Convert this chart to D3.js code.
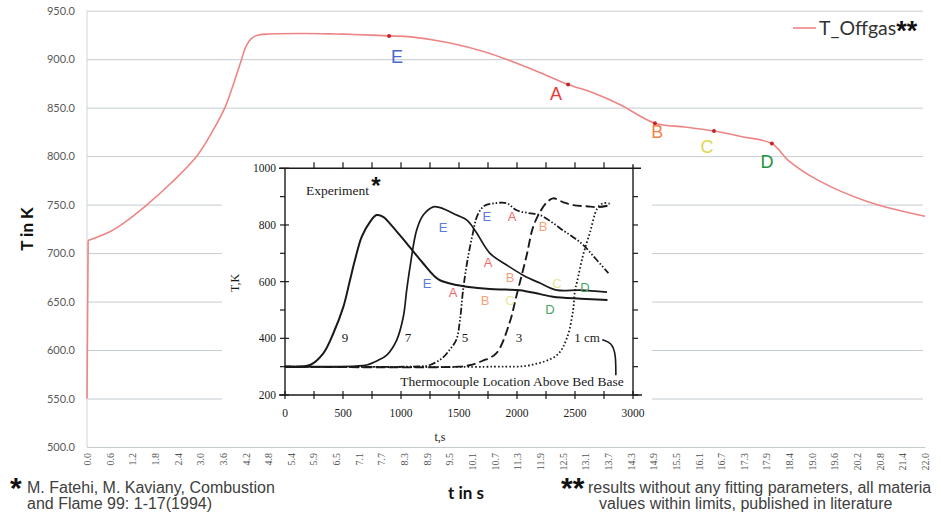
<!DOCTYPE html>
<html>
<head>
<meta charset="utf-8">
<script src="https://cdn.jsdelivr.net/npm/d3@7"></script>
<style>
  body { margin: 0; background: #fff; }
  svg { display: block; }
</style>
</head>
<body>
<svg id="chart" width="941" height="518"></svg>
<script>
// ---- main chart: T_Offgas over t ----
const offT = [0, 0.03, 0.6, 1.0, 1.58, 2.2, 2.88, 3.3, 3.62, 3.85, 4.06, 4.17, 4.32, 4.5, 4.8, 5.67, 6.5, 7.0, 7.93, 8.5, 9.5, 10.5, 11.2, 11.9, 12.63, 13.3, 14.0, 14.91, 15.7, 16.46, 17.2, 17.98, 18.4, 19.2, 20.5, 22.0];
const offK = [550, 713, 722, 732, 750, 772, 800, 826, 850, 875, 900, 913, 921.5, 925, 926, 926.5, 926, 925.5, 924, 923, 917, 907, 897, 886, 874, 865, 853, 834, 830, 826, 820, 813, 796, 775, 753, 738];
const yTicks = [500, 550, 600, 650, 700, 750, 800, 850, 900, 950];
const xTickLabels = ["0.0","0.6","1.2","1.8","2.4","3.0","3.6","4.2","4.8","5.4","5.9","6.5","7.1","7.7","8.3","8.9","9.5","10.1","10.7","11.3","11.9","12.5","13.1","13.7","14.3","14.9","15.5","16.1","16.7","17.3","17.9","18.4","19.0","19.6","20.2","20.8","21.4","22.0"];

// phase markers on the main curve and their letters
const phaseLetters = ["E", "A", "B", "C", "D"];
const phaseT = [7.93, 12.63, 14.91, 16.46, 17.98];
const phaseK = [924, 874, 834, 826, 813];
const phaseLabelT = [8.14, 12.31, 14.97, 16.28, 17.85];
const phaseLabelK = [902, 864, 825, 809.5, 794];
const letterColor = {E: "#4a68d0", A: "#e8383a", B: "#f3834a", C: "#dcd84c", D: "#23913f"};
const insetLetterColor = {E: "#5c7bdc", A: "#f06a6a", B: "#f5a27c", C: "#e8e69a", D: "#46a862"};

// ---- inset: experiment (Fatehi & Kaviany) ----
const c9t = [0, 216, 330, 416, 503, 560, 603, 661, 733, 790, 850, 905, 1049, 1192, 1279, 1336, 1480, 1566, 1765, 1900, 2025, 2200, 2310, 2550, 2780];
const c9k = [300, 306, 347, 417, 511, 605, 676, 758, 811, 835, 828, 805, 735, 664, 623, 605, 588, 582, 574, 572, 570, 556, 547, 540, 535];
const c7t = [0, 610, 704, 800, 877, 963, 1020, 1049, 1078, 1135, 1192, 1279, 1330, 1394, 1480, 1566, 1640, 1767, 1914, 2052, 2198, 2345, 2543, 2776];
const c7k = [300, 302, 306, 322, 341, 394, 476, 570, 652, 782, 835, 864, 862, 852, 835, 818, 780, 700, 658, 623, 595, 570, 570, 563];
const c5t = [0, 1150, 1243, 1355, 1420, 1476, 1510, 1535, 1575, 1616, 1660, 1720, 1800, 1910, 1997, 2100, 2197, 2300, 2400, 2485, 2572, 2680, 2788];
const c5k = [300, 301, 305, 330, 360, 394, 470, 570, 680, 764, 835, 868, 876, 877, 852, 842, 835, 810, 780, 757, 729, 680, 630];
const c3t = [0, 1500, 1590, 1700, 1823, 1935, 1997, 2084, 2136, 2197, 2258, 2310, 2400, 2485, 2600, 2693, 2780];
const c3k = [300, 300, 305, 320, 348, 454, 553, 694, 789, 845, 880, 894, 880, 870, 866, 863, 868];
const c1t = [0, 1800, 2110, 2345, 2430, 2484, 2500, 2518, 2570, 2630, 2693, 2745, 2800];
const c1k = [300, 300, 305, 341, 401, 500, 570, 600, 694, 775, 859, 877, 875];
const curveNames = ["9", "7", "5", "3", "1 cm"];
const curveNameT = [517, 1060, 1552, 2017, 2603];
const insetXTicks = [0, 500, 1000, 1500, 2000, 2500, 3000];
const insetYTicks = [200, 400, 600, 800, 1000];

const insetLetters = ["E", "E", "A", "B", "E", "A", "B", "C", "D", "A", "B", "C", "D"];
const insetLetterT = [1362, 1741, 1957, 2224, 1224, 1750, 1940, 2345, 2586, 1448, 1724, 1940, 2284];
const insetLetterK = [792, 831, 831, 796, 595, 669, 616, 595, 581, 560, 535, 535, 503];

const svg = d3.select("#chart");

// main scales
const x = d3.scaleLinear().domain([0, 22]).range([87, 925]);
const xCat = d3.scalePoint().domain(xTickLabels).range([87, 925]);
const y = d3.scaleLinear().domain([500, 950]).range([447, 10.7]);

// gridlines + y labels
const yAxis = svg.append("g")
  .attr("transform", "translate(87,0)")
  .call(d3.axisLeft(y).tickValues(yTicks).tickSize(-836).tickFormat(d3.format(".1f")).tickPadding(12));
yAxis.select(".domain").remove();
yAxis.selectAll(".tick line").attr("stroke", "#c5ccd0").attr("stroke-width", 1);
yAxis.selectAll(".tick text")
  .attr("fill", "#595959").style("font-family", "Lato, 'Open Sans', sans-serif").style("font-size", "11px");

// left axis line
svg.append("line").attr("x1", 87).attr("x2", 87).attr("y1", y(950)).attr("y2", y(500))
  .attr("stroke", "#d0d6d9");

// x tick labels (rotated)
const xAxis = svg.append("g")
  .attr("transform", "translate(0,447)")
  .call(d3.axisBottom(xCat).tickSize(0));
xAxis.select(".domain").attr("stroke", "#c5ccd0");
xAxis.selectAll(".tick text")
  .attr("fill", "#555")
  .style("font-family", "'Liberation Serif', serif").style("font-size", "10px")
  .attr("text-anchor", "end")
  .attr("transform", "rotate(-90)")
  .attr("x", -6).attr("y", 0).attr("dy", "0.35em");

// axis titles
svg.append("text").attr("transform", "translate(33,229) rotate(-90)")
  .attr("text-anchor", "middle")
  .style("font-family", "Lato, sans-serif").style("font-weight", "bold").style("font-size", "17px")
  .attr("fill", "#111").text("T in K");
svg.append("text").attr("x", 466).attr("y", 499).attr("text-anchor", "middle")
  .style("font-family", "Lato, sans-serif").style("font-weight", "bold").style("font-size", "17px")
  .attr("fill", "#111").text("t in s");

// main line: the jump at t=0 straight, the rest smoothed
const offData = offT.map((t, i) => [t, offK[i]]);
svg.append("path").datum(offData.slice(0, 2))
  .attr("fill", "none").attr("stroke", "#ee8585").attr("stroke-width", 1.6)
  .attr("d", d3.line().x(d => x(d[0])).y(d => y(d[1])));
svg.append("path").datum(offData.slice(1))
  .attr("fill", "none").attr("stroke", "#ee8585").attr("stroke-width", 1.6)
  .attr("d", d3.line().x(d => x(d[0])).y(d => y(d[1])).curve(d3.curveCatmullRom.alpha(0.5)));

svg.selectAll(".phase").data(phaseT).join("circle")
  .attr("cx", d => x(d)).attr("cy", (d, i) => y(phaseK[i])).attr("r", 2)
  .attr("fill", "#c3262a");

svg.selectAll(".phaseLabel").data(phaseLetters).join("text")
  .attr("x", (d, i) => x(phaseLabelT[i])).attr("y", (d, i) => y(phaseLabelK[i]))
  .attr("text-anchor", "middle").attr("dominant-baseline", "central")
  .style("font-family", "'Liberation Sans', Arial, sans-serif").style("font-size", "18px")
  .attr("fill", d => letterColor[d]).text(d => d);

// legend
svg.append("line").attr("x1", 793).attr("x2", 816).attr("y1", 28).attr("y2", 28)
  .attr("stroke", "#ee8585").attr("stroke-width", 1.6);
const leg = svg.append("text").attr("x", 819).attr("y", 34.5)
  .style("font-family", "Lato, sans-serif").style("font-size", "19.5px").attr("fill", "#333");
leg.append("tspan").text("T_Offgas");
leg.append("tspan").attr("dy", 5).style("font-family", "'Liberation Sans', sans-serif").style("font-weight", "bold")
  .style("font-size", "27px").attr("fill", "#111").text("**");

// ---- inset ----
const inset = svg.append("g");
inset.append("rect").attr("x", 222).attr("y", 158).attr("width", 430).attr("height", 284).attr("fill", "#fff");

const xs = d3.scaleLinear().domain([0, 3000]).range([285, 633]);
const ys = d3.scaleLinear().domain([200, 1000]).range([395, 168.3]);
const ink = "#1a1a1a";
const serif = "'Liberation Serif', 'Times New Roman', serif";

// frame
inset.append("line").attr("x1", xs(0)).attr("x2", xs(0)).attr("y1", ys(1000)).attr("y2", ys(200)).attr("stroke", ink).attr("stroke-width", 1.4);
inset.append("line").attr("x1", xs(0) - 6).attr("x2", xs(3000) + 8).attr("y1", ys(1000)).attr("y2", ys(1000)).attr("stroke", ink).attr("stroke-width", 1.4);
inset.append("line").attr("x1", xs(3000)).attr("x2", xs(3000)).attr("y1", ys(1000) - 4).attr("y2", ys(200)).attr("stroke", ink).attr("stroke-width", 1.4);
inset.append("line").attr("x1", xs(0) - 6).attr("x2", xs(3000) + 9).attr("y1", ys(200)).attr("y2", ys(200)).attr("stroke", ink).attr("stroke-width", 1.4);

// ticks
const xMinor = d3.range(0, 3001, 250);
const yMinor = d3.range(200, 1001, 100);
inset.selectAll(".bt").data(xMinor).join("line")
  .attr("x1", d => xs(d)).attr("x2", d => xs(d)).attr("y1", ys(200) - 4).attr("y2", ys(200) + 4)
  .attr("stroke", ink).attr("stroke-width", 1.2);
inset.selectAll(".tt").data(xMinor.slice(1, -1)).join("line")
  .attr("x1", d => xs(d)).attr("x2", d => xs(d)).attr("y1", ys(1000) - 6).attr("y2", ys(1000))
  .attr("stroke", ink).attr("stroke-width", 1.2);
inset.selectAll(".lt").data(yMinor).join("line")
  .attr("x1", d => xs(0) - 5).attr("x2", d => xs(0) + (d % 200 === 0 ? 4 : 0)).attr("y1", d => ys(d)).attr("y2", d => ys(d))
  .attr("stroke", ink).attr("stroke-width", 1.2);
inset.selectAll(".rt").data(yMinor.slice(0, -1)).join("line")
  .attr("x1", xs(3000)).attr("x2", xs(3000) + 5).attr("y1", d => ys(d)).attr("y2", d => ys(d))
  .attr("stroke", ink).attr("stroke-width", 1.2);

inset.selectAll(".xl").data(insetXTicks).join("text")
  .attr("x", d => xs(d)).attr("y", 417).attr("text-anchor", "middle")
  .style("font-family", serif).style("font-size", "11.5px").attr("fill", ink).text(d => d);
inset.selectAll(".yl").data(insetYTicks).join("text")
  .attr("x", 276).attr("y", d => ys(d)).attr("dy", "0.35em").attr("text-anchor", "end")
  .style("font-family", serif).style("font-size", "11.5px").attr("fill", ink).text(d => d);

inset.append("text").attr("x", 440).attr("y", 441).attr("text-anchor", "middle")
  .style("font-family", serif).style("font-size", "12px").attr("fill", ink).text("t,s");
inset.append("text").attr("transform", "translate(239,283) rotate(-90)").attr("text-anchor", "middle")
  .style("font-family", serif).style("font-size", "12px").attr("fill", ink).text("T,K");

// curves
const insetLine = d3.line().x(d => xs(d[0])).y(d => ys(d[1])).curve(d3.curveCatmullRom.alpha(0.5));
const curves = [
  {t: c9t, k: c9k, dash: null, w: 2},
  {t: c7t, k: c7k, dash: null, w: 1.7},
  {t: c5t, k: c5k, dash: "7,2,1.5,2,1.5,2", w: 1.8},
  {t: c3t, k: c3k, dash: "9,4", w: 1.9},
  {t: c1t, k: c1k, dash: "1.6,2.2", w: 1.8}
];
curves.forEach(c => {
  inset.append("path").datum(c.t.map((t, i) => [t, c.k[i]]))
    .attr("fill", "none").attr("stroke", ink).attr("stroke-width", c.w)
    .attr("stroke-dasharray", c.dash)
    .attr("d", insetLine);
});

inset.selectAll(".cn").data(curveNames).join("text")
  .attr("x", (d, i) => xs(curveNameT[i])).attr("y", ys(404)).attr("dy", "0.35em").attr("text-anchor", "middle")
  .style("font-family", serif).style("font-size", "13px").attr("fill", ink).text(d => d);

// leader from "1 cm" to the caption
const leader = [[2735, 395], [2815, 385], [2852, 345], [2852, 270]];
inset.append("path").datum(leader).attr("fill", "none").attr("stroke", ink).attr("stroke-width", 1.6)
  .attr("d", d3.line().x(d => xs(d[0])).y(d => ys(d[1])).curve(d3.curveBasis));

inset.append("text").attr("x", xs(1957)).attr("y", ys(249)).attr("dy", "0.35em").attr("text-anchor", "middle")
  .style("font-family", serif).style("font-size", "13.5px").attr("fill", ink).text("Thermocouple Location Above Bed Base");
inset.append("text").attr("x", xs(181)).attr("y", ys(923)).attr("dy", "0.35em")
  .style("font-family", serif).style("font-size", "13.5px").attr("fill", ink).text("Experiment");
inset.append("text").attr("x", xs(784)).attr("y", ys(940)).attr("dy", "0.35em").attr("text-anchor", "middle")
  .style("font-family", "'Liberation Sans', sans-serif").style("font-weight", "bold").style("font-size", "24px")
  .attr("fill", "#111").text("*");

inset.selectAll(".il").data(insetLetters).join("text")
  .attr("x", (d, i) => xs(insetLetterT[i])).attr("y", (d, i) => ys(insetLetterK[i]))
  .attr("text-anchor", "middle").attr("dominant-baseline", "central")
  .style("font-family", "'Liberation Sans', Arial, sans-serif").style("font-size", "13px")
  .attr("fill", d => insetLetterColor[d]).text(d => d);

// ---- footnotes ----
const note = "'Liberation Sans', Arial, sans-serif";
svg.append("text").attr("x", 10).attr("y", 498)
  .style("font-family", note).style("font-weight", "bold").style("font-size", "30px").attr("fill", "#111").text("*");
const n1 = svg.append("text").style("font-family", note).style("font-size", "16px").attr("fill", "#404040");
n1.append("tspan").attr("x", 27).attr("y", 493).text("M. Fatehi, M. Kaviany, Combustion");
n1.append("tspan").attr("x", 27).attr("y", 509).text("and Flame 99: 1-17(1994)");

svg.append("text").attr("x", 561).attr("y", 498)
  .style("font-family", note).style("font-weight", "bold").style("font-size", "30px").attr("fill", "#111").text("**");
const n2 = svg.append("text").style("font-family", note).style("font-size", "16px").attr("fill", "#404040");
n2.append("tspan").attr("x", 588).attr("y", 493).text("results without any fitting parameters, all materia");
n2.append("tspan").attr("x", 599).attr("y", 509).text("values within limits, published in literature");
</script>
</body>
</html>
